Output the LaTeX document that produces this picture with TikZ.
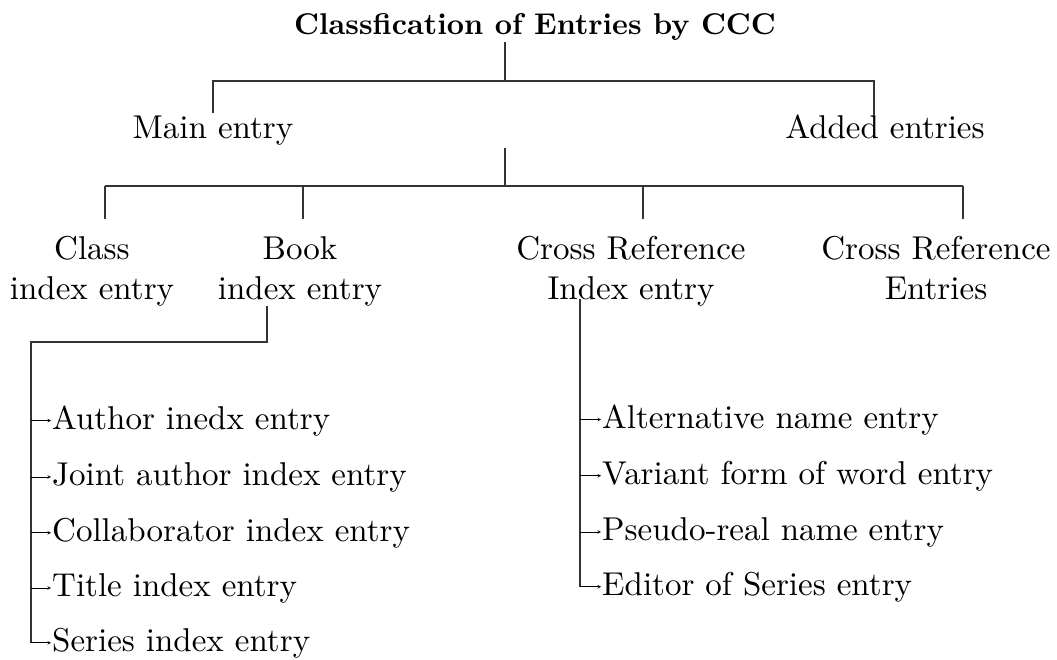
\documentclass[tikz,border=0pt]{standalone}
\usepackage{fontspec}
\setmainfont{lmroman10-regular.otf}[BoldFont=lmroman10-bold.otf]
\usetikzlibrary{arrows}
\usetikzlibrary{positioning, calc}

\tikzset{
  head/.style={inner sep=1pt, font=\fontsize{30}{36}\selectfont\bfseries},
  lbl/.style={inner sep=0pt, align=center, font=\fontsize{33}{40}\selectfont},
  item/.style={inner sep=0pt, anchor=base west, font=\fontsize{33}{40}\selectfont},
  tree/.style={line width=1.1pt, black!80},
  pt/.style={->, line width=0.6pt, shorten >=1pt}
}

\begin{document}
\begin{tikzpicture}[x=1pt, y=-1pt, >=stealth]
      \useasboundingbox (0,0) rectangle (1057,660);

      % headings
      \node[head, anchor=base] (title) at (535,35) {Classfication of Entries by CCC};
      \node[lbl, anchor=base] (mainent) at (213,139) {Main entry};
      \node[lbl, anchor=base] (addent) at (885,139) {Added entries};

      \node[lbl, anchor=north] (classidx) at (92,236) {Class\\index entry};
      \node[lbl, anchor=north] (bookidx) at (300,236) {Book\\index entry};
      \node[lbl, anchor=north] (crossidx) at (631,236) {Cross Reference\\Index entry};
      \node[lbl, anchor=north] (crossent) at (936,236) {Cross Reference\\Entries};

      % book index entries
      \node[item] (author) at (52,429) {Author inedx entry};
      \node[item] (joint) at (52,485) {Joint author index entry};
      \node[item] (collab) at (52,541) {Collaborator index entry};
      \node[item] (titleidx) at (52,596) {Title index entry};
      \node[item] (series) at (52,651) {Series index entry};

      % cross reference index entries
      \node[item] (altname) at (602,428) {Alternative name entry};
      \node[item] (variant) at (602,484) {Variant form of word entry};
      \node[item] (pseudo) at (602,540) {Pseudo-real name entry};
      \node[item] (editor) at (602,595) {Editor of Series entry};

      \coordinate (r1) at (505,81);
      \coordinate (r2top) at (505,148);
      \coordinate (r2) at (505,186);
      \coordinate (b1) at (31,342);

      \draw[tree] (title.south -| r1) -- (r1);
      \draw[tree] ([yshift=3pt]mainent.north) |- (r1) -| (addent.north -| 874,0);

      \draw[tree] (r2top) -- (r2);
      \draw[tree] (r2 -| 105,0) -- (r2 -| 963,0);
      \foreach \n/\x in {classidx/105, bookidx/303, crossidx/643, crossent/963}
        \draw[tree] (r2 -| \x,0) -- ($(\n.north -| \x,0)+(0,-17)$);

      \draw[tree] (bookidx.south -| 267,0) |- (b1) -- (series.west -| b1);
      \foreach \n in {author, joint, collab, titleidx, series}
        \draw[pt] (\n.west -| b1) -- (\n.west);

      \draw[tree] ($(crossidx.south -| 580,0)+(0,-7)$) -- (editor.west -| 580,0);
      \foreach \n in {altname, variant, pseudo, editor}
        \draw[pt] (\n.west -| 580,0) -- (\n.west);

    \end{tikzpicture}
\end{document}
